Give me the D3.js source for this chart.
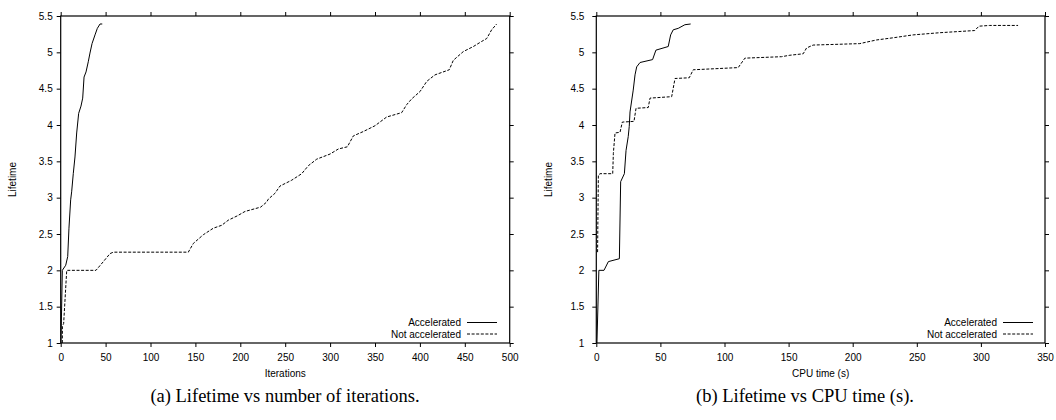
<!DOCTYPE html>
<html><head><meta charset="utf-8">
<script src="https://cdn.jsdelivr.net/npm/d3@7"></script>
<style>
html,body{margin:0;padding:0;background:#fff;}
svg{display:block;}
</style></head>
<body>
<svg id="chart" width="1056" height="420"></svg>
<script>
// ---- Data ----
// Panel (a): Lifetime vs iterations
const iterAccX = [0.3, 1.8, 5.6, 7.8, 9.2, 11.1, 12.2, 14, 15.9, 17.8, 20, 22.6, 24.5, 26, 28.2, 30.7, 32.6, 34.9, 38.2, 40.8, 43.8, 46.3];
const iterAccY = [1, 2.0, 2.07, 2.19, 2.58, 2.97, 3.08, 3.33, 3.56, 3.89, 4.16, 4.26, 4.37, 4.66, 4.73, 4.87, 4.99, 5.12, 5.24, 5.33, 5.39, 5.39];
const iterNotX = [1.8, 1.9, 3.3, 6.7, 39.3, 47.5, 54.9, 58.6, 142.1, 147.7, 158.8, 170, 179.3, 186.6, 196.7, 205.2, 222.7, 229.4, 231.2, 238.6, 244.2, 257.2, 268.4, 275.8, 285.1, 299.9, 309.2, 319.2, 325.9, 337, 350, 363, 379.7, 385.3, 390.9, 400.1, 407.6, 416.8, 432.7, 437.2, 448.3, 459.5, 468.8, 474.4, 479.9, 485.5];
const iterNotY = [1, 1.23, 1.27, 2.0, 2.0, 2.12, 2.23, 2.25, 2.25, 2.37, 2.49, 2.58, 2.62, 2.69, 2.75, 2.81, 2.87, 2.94, 2.98, 3.06, 3.16, 3.24, 3.33, 3.44, 3.53, 3.60, 3.67, 3.70, 3.85, 3.91, 3.99, 4.11, 4.17, 4.28, 4.36, 4.46, 4.60, 4.69, 4.76, 4.89, 5.01, 5.08, 5.15, 5.19, 5.31, 5.39];
// Panel (b): Lifetime vs CPU time (s)
const cpuAccX = [0.5, 2.0, 2.9, 6, 9.4, 18, 19, 21.9, 23.2, 24.9, 25.7, 26.3, 28.8, 30.2, 31.5, 34.1, 43.9, 46.5, 56.1, 58, 60, 63.9, 69.1, 73.6];
const cpuAccY = [1, 2.0, 2.0, 2.0, 2.12, 2.16, 3.22, 3.33, 3.65, 3.84, 3.98, 4.18, 4.48, 4.69, 4.80, 4.86, 4.90, 5.03, 5.08, 5.24, 5.31, 5.33, 5.38, 5.39];
const cpuNotX = [1, 1.6, 2.9, 12.8, 13.3, 14.6, 18.5, 20.3, 29.4, 31, 40.5, 41.9, 58.8, 61.4, 72.5, 75.6, 110.7, 115.9, 144.5, 151, 161.4, 164, 169.1, 205.5, 218.5, 231.5, 247.1, 267.9, 295.2, 298.5, 306.9, 317.3, 329];
const cpuNotY = [2.25, 3.31, 3.33, 3.33, 3.61, 3.89, 3.90, 4.04, 4.05, 4.23, 4.24, 4.37, 4.39, 4.64, 4.65, 4.76, 4.79, 4.92, 4.94, 4.96, 4.98, 5.06, 5.10, 5.12, 5.17, 5.20, 5.24, 5.27, 5.30, 5.36, 5.37, 5.37, 5.37];

const yTicks = [1, 1.5, 2, 2.5, 3, 3.5, 4, 4.5, 5, 5.5];
const iterTicks = [0, 50, 100, 150, 200, 250, 300, 350, 400, 450, 500];
const cpuTicks = [0, 50, 100, 150, 200, 250, 300, 350];
const legendLabels = ["Accelerated", "Not accelerated"];
const yLabel = "Lifetime";
const xLabels = ["Iterations", "CPU time (s)"];
const captions = ["(a) Lifetime vs number of iterations.", "(b) Lifetime vs CPU time (s)."];

// ---- Drawing ----
const svg = d3.select("#chart");
const sansFont = "'Liberation Sans', Arial, sans-serif";
const serifFont = "'Liberation Serif', 'DejaVu Serif', serif";

function panel(cfg) {
  const g = svg.append("g");
  const x = d3.scaleLinear().domain(cfg.xDomain).range([cfg.left, cfg.right]);
  const y = d3.scaleLinear().domain([1, 5.5]).range([cfg.bottom, cfg.top]);
  const tickLen = 4;

  // frame
  g.append("rect").attr("x", cfg.left).attr("y", cfg.top)
    .attr("width", cfg.right - cfg.left).attr("height", cfg.bottom - cfg.top)
    .attr("fill", "none").attr("stroke", "#000").attr("stroke-width", 1.2);

  const axisStyle = sel => {
    sel.select(".domain").remove();
    sel.selectAll("line").attr("stroke", "#000").attr("stroke-width", 1);
    sel.selectAll("text").attr("font-family", sansFont).attr("font-size", 10).attr("fill", "#000");
  };
  // bottom
  g.append("g").attr("transform", `translate(0,${cfg.bottom})`)
    .call(d3.axisBottom(x).tickValues(cfg.xTicks).tickSize(tickLen).tickPadding(7).tickFormat(d3.format("d")))
    .call(axisStyle);
  // top (mirror)
  g.append("g").attr("transform", `translate(0,${cfg.top})`)
    .call(d3.axisTop(x).tickValues(cfg.xTicks).tickSize(tickLen).tickFormat(""))
    .call(axisStyle);
  // left
  g.append("g").attr("transform", `translate(${cfg.left},0)`)
    .call(d3.axisLeft(y).tickValues(yTicks).tickSize(tickLen).tickPadding(cfg.yPad).tickFormat(d => String(d)))
    .call(axisStyle);
  // right (mirror)
  g.append("g").attr("transform", `translate(${cfg.right},0)`)
    .call(d3.axisRight(y).tickValues(yTicks).tickSize(tickLen).tickFormat(""))
    .call(axisStyle);

  // axis titles
  g.append("text").attr("x", (cfg.left + cfg.right) / 2).attr("y", 377)
    .attr("text-anchor", "middle").attr("font-family", sansFont).attr("font-size", 10)
    .text(cfg.xLabel);
  g.append("text").attr("transform", `translate(${cfg.yLabelX},${(cfg.top + cfg.bottom) / 2}) rotate(-90)`)
    .attr("text-anchor", "middle").attr("font-family", sansFont).attr("font-size", 10)
    .text(yLabel);

  // clip
  const clipId = "clip" + cfg.id;
  svg.append("clipPath").attr("id", clipId).append("rect")
    .attr("x", cfg.left).attr("y", cfg.top).attr("width", cfg.right - cfg.left).attr("height", cfg.bottom - cfg.top);

  const line = d3.line().x(d => x(d[0])).y(d => y(d[1]));
  const series = [
    { xs: cfg.accX, ys: cfg.accY, dash: null },
    { xs: cfg.notX, ys: cfg.notY, dash: "3,1.6" }
  ];
  series.forEach(s => {
    g.append("path").datum(s.xs.map((v, i) => [v, s.ys[i]]))
      .attr("clip-path", `url(#${clipId})`)
      .attr("d", line).attr("fill", "none").attr("stroke", "#000")
      .attr("stroke-width", 1).attr("stroke-dasharray", s.dash);
  });

  // legend
  legendLabels.forEach((lab, i) => {
    const ly = cfg.legendY + i * 11.5;
    g.append("text").attr("x", cfg.legendTextX).attr("y", ly + 3.5)
      .attr("text-anchor", "end").attr("font-family", sansFont).attr("font-size", 10).text(lab);
    g.append("line").attr("x1", cfg.legendTextX + 6).attr("x2", cfg.legendTextX + 36)
      .attr("y1", ly).attr("y2", ly).attr("stroke", "#000").attr("stroke-width", 1)
      .attr("stroke-dasharray", i === 0 ? null : "3,1.6");
  });

  // caption
  g.append("text").attr("x", cfg.captionX).attr("y", 402).attr("text-anchor", "middle")
    .attr("font-family", serifFont).attr("font-size", 18.5).text(cfg.caption);
}

panel({
  id: "a", left: 60.7, right: 509.7, top: 16, bottom: 343, xDomain: [0, 500], xTicks: iterTicks,
  accX: iterAccX, accY: iterAccY, notX: iterNotX, notY: iterNotY,
  xLabel: xLabels[0], yLabelX: 16, yPad: 4, legendY: 322.5, legendTextX: 461,
  caption: captions[0], captionX: 285
});
panel({
  id: "b", left: 596.3, right: 1045, top: 16, bottom: 343, xDomain: [0, 350], xTicks: cpuTicks,
  accX: cpuAccX, accY: cpuAccY, notX: cpuNotX, notY: cpuNotY,
  xLabel: xLabels[1], yLabelX: 552, yPad: 8, legendY: 322.5, legendTextX: 997,
  caption: captions[1], captionX: 805
});
</script>
</body></html>
